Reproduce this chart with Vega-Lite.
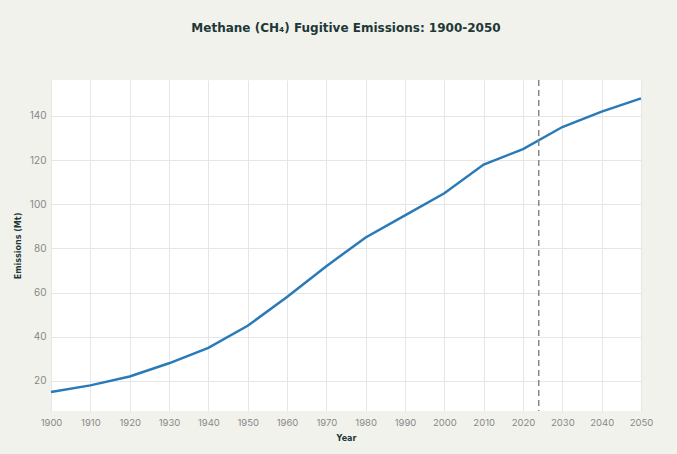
{
  "$schema": "https://vega.github.io/schema/vega-lite/v6.json",
  "width": 590,
  "height": 331,
  "autosize": {"type": "none"},
  "padding": {"left": 51, "top": 80, "right": 36, "bottom": 43},
  "background": "#f2f2ec",
  "config": {
    "view": {"fill": "white", "stroke": null},
    "axis": {
      "gridColor": "#e6e6e6",
      "gridWidth": 1,
      "domain": false,
      "ticks": false,
      "labelColor": "#888888",
      "labelFont": "Inter",
      "labelFontSize": 10,
      "labelOverlap": false,
      "titleColor": "#1e3838",
      "titleFont": "DejaVu Sans",
      "titleFontWeight": "bold",
      "titleFontSize": 8
    }
  },
  "title": {
    "text": "Methane (CH₄) Fugitive Emissions: 1900-2050",
    "font": "DejaVu Sans",
    "fontSize": 12,
    "fontWeight": "bold",
    "color": "#1e3838",
    "anchor": "middle",
    "offset": 44
  },
  "datasets": {
    "emissions": [
      {"Year": 1900, "Emissions": 15},
      {"Year": 1910, "Emissions": 18},
      {"Year": 1920, "Emissions": 22},
      {"Year": 1930, "Emissions": 28},
      {"Year": 1940, "Emissions": 35},
      {"Year": 1950, "Emissions": 45},
      {"Year": 1960, "Emissions": 58},
      {"Year": 1970, "Emissions": 72},
      {"Year": 1980, "Emissions": 85},
      {"Year": 1990, "Emissions": 95},
      {"Year": 2000, "Emissions": 105},
      {"Year": 2010, "Emissions": 118},
      {"Year": 2020, "Emissions": 125},
      {"Year": 2030, "Emissions": 135},
      {"Year": 2040, "Emissions": 142},
      {"Year": 2050, "Emissions": 148}
    ],
    "marker": [{"Year": 2024}]
  },
  "encoding": {
    "x": {
      "field": "Year",
      "type": "quantitative",
      "scale": {"domain": [1900, 2050], "nice": false},
      "axis": {
        "values": [1900, 1910, 1920, 1930, 1940, 1950, 1960, 1970, 1980, 1990, 2000, 2010, 2020, 2030, 2040, 2050],
        "format": "d",
        "labelPadding": 6,
        "labelFlush": false,
        "labelFontSize": 9.5,
        "title": "Year",
        "titlePadding": 8
      }
    }
  },
  "layer": [
    {
      "data": {"name": "emissions"},
      "mark": {"type": "line", "color": "#2a7ab8", "strokeWidth": 2.5},
      "encoding": {
        "y": {
          "field": "Emissions",
          "type": "quantitative",
          "scale": {"domain": [6.4, 156.3], "nice": false, "zero": false},
          "axis": {
            "values": [20, 40, 60, 80, 100, 120, 140],
            "labelPadding": 5,
            "title": "Emissions (Mt)",
            "titlePadding": 7
          }
        }
      }
    },
    {
      "data": {"name": "marker"},
      "mark": {"type": "rule", "color": "#888888", "strokeWidth": 1.5, "strokeDash": [6, 4]}
    }
  ]
}
